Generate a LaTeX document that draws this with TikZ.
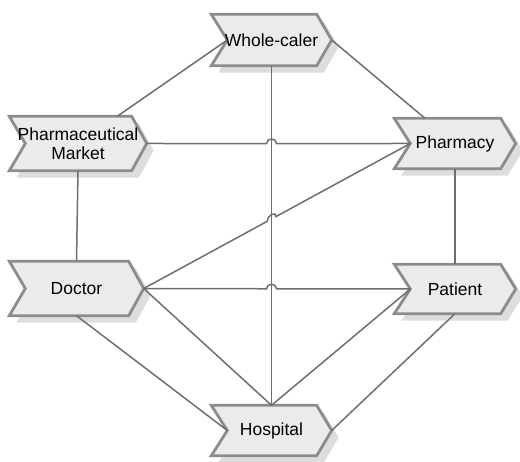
\documentclass[tikz,border=0pt]{standalone}
\usepackage{fontspec}
\setmainfont{Liberation Sans}
\usetikzlibrary{calc}
\definecolor{boxfill}{HTML}{EBEBEB}
\definecolor{boxline}{HTML}{8C8C8C}
\definecolor{shadowc}{HTML}{DDDDDD}
\definecolor{linkc}{HTML}{6E6E6E}
\pgfdeclarelayer{bg}
\pgfsetlayers{bg,main}
\newcommand\chevron[1]{%
  \coordinate (#1N) at ($(#1.west)+(16,0)$);
  \begin{pgfonlayer}{bg}
  \path[fill=shadowc] ($(#1.north west)+(7,7)$) -- ($(#1.north east)+(-8,7)$) -- ($(#1.east)+(7,7)$)
     -- ($(#1.south east)+(-8,7)$) -- ($(#1.south west)+(7,7)$) -- ($(#1N)+(7,7)$) -- cycle;
  \path[draw=boxline, fill=boxfill, line width=2.8pt, line join=miter]
     (#1.north west) -- ($(#1.north east)+(-15,0)$) -- (#1.east)
     -- ($(#1.south east)+(-15,0)$) -- (#1.south west) -- (#1N) -- cycle;
  \end{pgfonlayer}}
\newcommand\hopline[2]{%
  \coordinate (X) at (intersection of #1--#2 and wh.south--ho.north);
  \draw[link] (#1) -- ($(X)!5pt!(#1)$) .. controls +(0,-6) and +(0,-6) .. ($(X)!5pt!(#2)$) -- (#2);}
\begin{document}
\begin{tikzpicture}[x=1pt,y=-1pt,
  lab/.style={rectangle, inner sep=0pt, align=center, font=\fontsize{17.5}{19}\selectfont},
  link/.style={draw=linkc, line width=1.5pt}]
\useasboundingbox (0,0) rectangle (520,462);
\node[lab, minimum width=120, minimum height=51] (wh) at (271.5,40) {Whole-caler};
\node[lab, minimum width=137, minimum height=54] (pm) at (78,143.5) {Pharmaceutical\\Market};
\node[lab, minimum width=121, minimum height=50] (ph) at (455,143.5) {Pharmacy};
\node[lab, minimum width=134, minimum height=54] (doc) at (76.5,288.5) {Doctor};
\node[lab, minimum width=121, minimum height=49] (pa) at (455,289) {Patient};
\node[lab, minimum width=120, minimum height=50] (ho) at (271.5,430.5) {Hospital};
\chevron{wh}\chevron{pm}\chevron{ph}\chevron{doc}\chevron{pa}\chevron{ho}
\draw[link] (whN) -- (pm);
\draw[link] (wh.east) -- (ph);
\draw[link] (wh.south) -- (ho.north);
\draw[link] (pm.south) -- (doc.north);
\draw[link] (ph.south) -- (pa.north);
\hopline{pm.east}{phN}
\hopline{doc.east}{phN}
\hopline{doc.east}{paN}
\draw[link] (doc.east) -- (ho.north);
\draw[link] (doc.south) -- (hoN);
\draw[link] (ho.north) -- (paN);
\draw[link] (ho.east) -- (pa.south);
\end{tikzpicture}
\end{document}
